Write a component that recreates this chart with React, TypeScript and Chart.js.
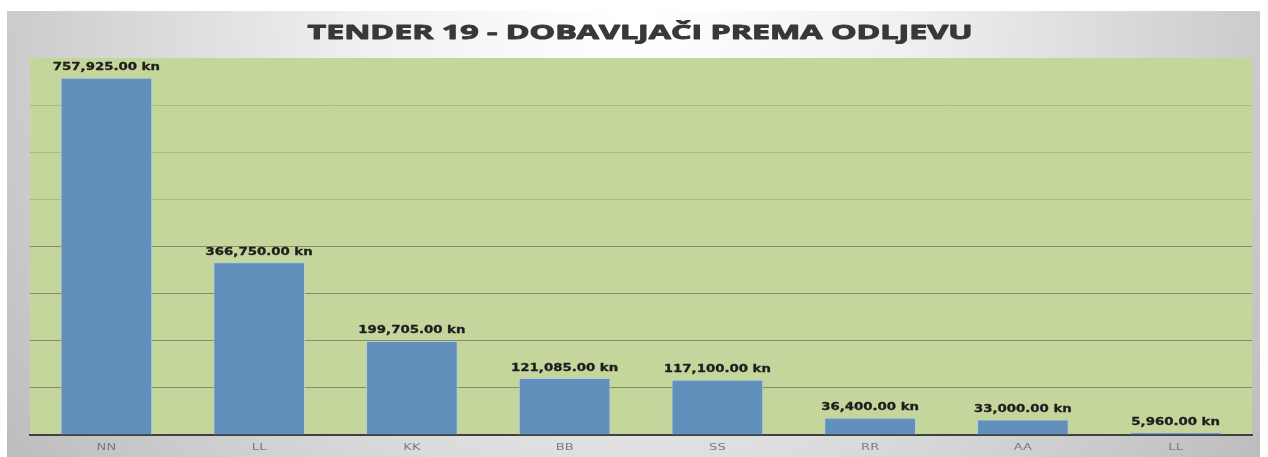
import React, { useEffect, useRef } from "react";
import { Chart, registerables } from "chart.js";

Chart.register(...registerables);

const categories = ["NN", "LL", "KK", "BB", "SS", "RR", "AA", "LL"];
const values = [757925, 366750, 199705, 121085, 117100, 36400, 33000, 5960];
const yMax = 800000;
const yStep = 100000;
const titleText = "TENDER 19 - DOBAVLJAČI PREMA ODLJEVU";

const fmt = (v: number) =>
  v.toLocaleString("en-US", { minimumFractionDigits: 2, maximumFractionDigits: 2 }) + " kn";

function stretchedText(ctx: any, text: string, x: number, y: number, sx: number, stroke = 0) {
  ctx.save();
  ctx.translate(x, y);
  ctx.scale(sx, 1);
  ctx.fillText(text, 0, 0);
  if (stroke > 0) {
    ctx.lineWidth = stroke;
    ctx.strokeStyle = ctx.fillStyle;
    ctx.lineJoin = "round";
    ctx.strokeText(text, 0, 0);
  }
  ctx.restore();
}

const bgPlugin = {
  id: "bgPlugin",
  beforeDraw(chart: any) {
    const { ctx, chartArea } = chart;
    const W = chart.width;
    const H = chart.height;
    ctx.save();
    ctx.fillStyle = "#ffffff";
    ctx.fillRect(0, 0, W, H);
    const x0 = 7, y0 = 11, x1 = 1260, y1 = H;
    const g = ctx.createRadialGradient(634, 20, 10, 634, 20, 760);
    g.addColorStop(0, "#ffffff");
    g.addColorStop(0.35, "#f0f0f0");
    g.addColorStop(1, "#bdbdbd");
    ctx.fillStyle = g;
    ctx.fillRect(x0, y0, x1 - x0, y1 - y0);
    ctx.fillStyle = "#c4d69c";
    ctx.fillRect(chartArea.left, chartArea.top, chartArea.right - chartArea.left, chartArea.bottom - chartArea.top);
    // title
    ctx.fillStyle = "#383838";
    ctx.font = "bold 19px 'Open Sans', sans-serif";
    ctx.textAlign = "center";
    ctx.textBaseline = "alphabetic";
    const tw = ctx.measureText(titleText).width;
    stretchedText(ctx, titleText, 640, 38.5, 665 / tw, 0.9);
    ctx.restore();
  },
  afterDatasetsDraw(chart: any) {
    const { ctx } = chart;
    const meta = chart.getDatasetMeta(0);
    const xs = chart.scales.x;
    ctx.save();
    ctx.font = "bold 10px 'DejaVu Sans', Verdana, sans-serif";
    ctx.fillStyle = "#1e1e1e";
    ctx.textAlign = "center";
    ctx.textBaseline = "middle";
    meta.data.forEach((bar: any, i: number) => {
      stretchedText(ctx, fmt(values[i]), bar.x, bar.y - 10, 1.33, 0.3);
    });
    ctx.font = "9px 'DejaVu Sans', Verdana, sans-serif";
    ctx.fillStyle = "#7a7a7a";
    categories.forEach((c, i) => {
      stretchedText(ctx, c, xs.getPixelForValue(i), 448, 1.45);
    });
    ctx.restore();
  },
};

export default function App() {
  const ref = useRef<HTMLCanvasElement>(null);
  useEffect(() => {
    if (!ref.current) return;
    const chart = new Chart(ref.current, {
      type: "bar",
      data: {
        labels: categories,
        datasets: [
          {
            data: values,
            backgroundColor: "#6190bd",
            borderColor: "#b4cbe0",
            borderWidth: 1,
            barPercentage: 0.6,
            categoryPercentage: 1,
          },
        ],
      },
      options: {
        animation: false,
        responsive: false,
        maintainAspectRatio: false,
        layout: { padding: { left: 30, right: 16, top: 58, bottom: 22 } },
        plugins: {
          legend: { display: false },
          tooltip: { enabled: false },
          title: { display: false },
        },
        scales: {
          x: {
            grid: { display: false, drawTicks: false },
            border: { display: true, color: "#404040", width: 2 },
            ticks: { display: false },
          },
          y: {
            min: 0,
            max: yMax,
            ticks: { display: false, stepSize: yStep },
            grid: {
              color: (c: any) => {
                const v = c.tick ? c.tick.value : 0;
                if (v >= yMax) return "rgba(0,0,0,0)";
                return v <= 400000 ? "rgba(85,95,55,0.6)" : "rgba(120,135,85,0.35)";
              },
              drawTicks: false,
              lineWidth: 1,
            },
            border: { display: false },
          },
        },
      },
      plugins: [bgPlugin],
    });
    return () => chart.destroy();
  }, []);
  return (
    <canvas
      ref={ref}
      width={1268}
      height={457}
      style={{ position: "fixed", left: 0, top: 0, width: 1268, height: 457, display: "block" }}
    />
  );
}
